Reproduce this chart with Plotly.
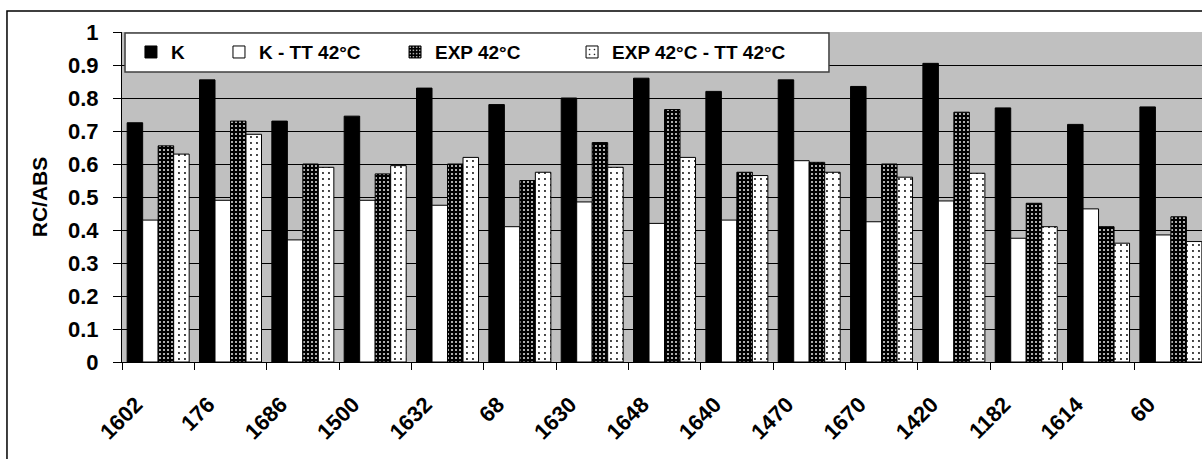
import plotly.graph_objects as go

categories = ["1602", "176", "1686", "1500", "1632", "68", "1630", "1648",
              "1640", "1470", "1670", "1420", "1182", "1614", "60"]
k_vals = [0.725, 0.855, 0.73, 0.745, 0.83, 0.78, 0.80, 0.86,
          0.82, 0.855, 0.835, 0.905, 0.77, 0.72, 0.773]
k_tt_vals = [0.43, 0.49, 0.37, 0.49, 0.475, 0.41, 0.485, 0.42,
             0.43, 0.61, 0.425, 0.488, 0.375, 0.464, 0.385]
exp_vals = [0.655, 0.73, 0.60, 0.57, 0.60, 0.55, 0.665, 0.765,
            0.575, 0.605, 0.60, 0.757, 0.481, 0.41, 0.44]
exp_tt_vals = [0.63, 0.69, 0.59, 0.595, 0.62, 0.575, 0.59, 0.62,
               0.565, 0.575, 0.56, 0.572, 0.41, 0.36, 0.365]
series_names = ["K", "K - TT 42°C", "EXP 42°C", "EXP 42°C - TT 42°C"]

FONT = "Liberation Sans, Arial, sans-serif"
line = dict(color="black", width=1)

fig = go.Figure()
fig.add_trace(go.Bar(x=categories, y=k_vals, name=series_names[0], showlegend=True,
                     marker=dict(color="black", line=line), legend="legend"))
fig.add_trace(go.Bar(x=categories, y=k_tt_vals, name=series_names[1], showlegend=True,
                     marker=dict(color="white", line=line), legend="legend2"))
fig.add_trace(go.Bar(x=categories, y=exp_vals, name=series_names[2], showlegend=True,
                     marker=dict(color="black", line=line,
                                 pattern=dict(shape=".", bgcolor="black", fgcolor="#d8d8d8",
                                              size=4, solidity=0.22, fillmode="replace")),
                     legend="legend3"))
fig.add_trace(go.Bar(x=categories, y=exp_tt_vals, name=series_names[3], showlegend=True,
                     marker=dict(color="white", line=line,
                                 pattern=dict(shape=".", bgcolor="white", fgcolor="black",
                                              size=6, solidity=0.08, fillmode="replace")),
                     legend="legend4"))

leg_common = dict(orientation="h", yanchor="middle", y=0.939, xanchor="left",
                  bgcolor="rgba(0,0,0,0)", borderwidth=0,
                  font=dict(family=FONT, size=19, color="black", weight="bold"))

fig.update_layout(
    width=1202, height=459,
    margin=dict(l=122, r=0, t=32, b=97),
    paper_bgcolor="white", plot_bgcolor="#C0C0C0",
    barmode="group", bargap=0.143, bargroupgap=0,
    showlegend=True,
    font=dict(family=FONT, size=20, color="black", weight="bold"),
    legend=dict(x=0.0083, **leg_common),
    legend2=dict(x=0.0898, **leg_common),
    legend3=dict(x=0.2528, **leg_common),
    legend4=dict(x=0.4167, **leg_common),
    xaxis=dict(type="category", range=[-0.5, 14.43], showline=True, linecolor="black",
               linewidth=1, ticks="outside", tickson="boundaries", ticklen=7,
               tickcolor="black", tickangle=-45, showgrid=False,
               ticklabelstandoff=20, ticklabelshift=-22,
               tickfont=dict(family=FONT, size=22, color="black", weight="bold")),
    yaxis=dict(range=[0, 1], dtick=0.1, showline=True, linecolor="black", linewidth=1,
               ticks="outside", ticklen=8, tickcolor="black", showgrid=True,
               gridcolor="black", gridwidth=1, zeroline=False, ticklabelstandoff=10,
               tickfont=dict(family=FONT, size=22, color="black", weight="bold"),
               title=dict(text="RC/ABS", standoff=14,
                          font=dict(family=FONT, size=21, color="black", weight="bold"))),
    shapes=[
        dict(type="rect", xref="paper", yref="paper", x0=0.0028, x1=0.6546,
             y0=0.8788, y1=0.997, fillcolor="white",
             line=dict(color="#404040", width=1.5), layer="above"),
        dict(type="rect", xref="paper", yref="paper", x0=-0.1065, x1=1.05,
             y0=-0.32, y1=1.0636, fillcolor="rgba(0,0,0,0)",
             line=dict(color="black", width=1.5), layer="below"),
    ],
)

fig.write_html("out.html", config={"displayModeBar": False},
               post_script="document.body.style.margin='0';document.body.style.overflow='hidden';")
